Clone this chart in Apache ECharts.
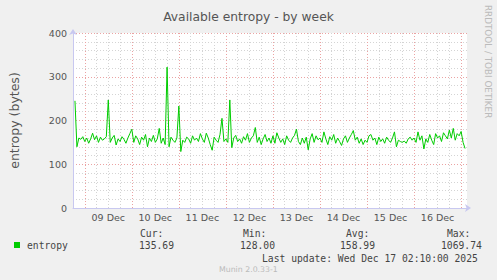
<!DOCTYPE html>
<html>
<head>
<meta charset="utf-8">
<script src="https://cdn.jsdelivr.net/npm/echarts@6/dist/echarts.min.js"></script>
<style>
html,body{margin:0;padding:0;background:#f0f0f0;}
#chart{width:497px;height:280px;}
</style>
</head>
<body>
<div id="chart"></div>
<script>
// ---- data (hourly, hours relative to 09 Dec 00:00) ----
const startHour = -5;
const entropyValues = [
  245,140,160,157,163,
  152,160,148,158,171,156,165,150,162,155,158,163,247,150,160,166,144,158,152,163,157,148,160,170,
  180,150,165,158,145,162,155,168,140,160,152,166,150,158,182,148,160,145,322,140,162,155,150,160,
  233,129,155,150,162,158,148,165,155,160,152,170,158,150,171,160,145,132,162,155,150,168,205,152,
  158,150,247,138,160,166,152,158,148,163,155,170,150,160,165,184,150,162,145,158,168,152,160,148,
  165,148,172,160,150,158,145,165,155,150,160,166,180,152,145,160,148,162,133,158,170,150,165,156,
  160,150,174,158,145,163,155,168,148,160,152,143,158,165,150,160,168,177,155,162,148,158,145,155,
  150,165,168,155,160,145,162,152,158,148,162,155,150,160,174,140,155,152,150,153,148,158,162,155,
  160,150,174,155,165,135,158,150,168,155,145,170,160,165,152,172,165,158,178,160,182,155,170,165,175,150,136
];
const dayLabels = ['09 Dec','10 Dec','11 Dec','12 Dec','13 Dec','14 Dec','15 Dec','16 Dec'];
const yTickLabels = [0,100,200,300,400];
const statHeaders = ['Cur:','Min:','Avg:','Max:'];
const statValues = ['135.69','128.00','158.99','1069.74'];
const seriesName = 'entropy';
const titleText = 'Available entropy - by week';
const yName = 'entropy (bytes)';
const lastUpdate = 'Last update: Wed Dec 17 02:10:00 2025';
const footer = 'Munin 2.0.33-1';
const sideText = 'RRDTOOL / TOBI OETIKER';

const seriesData = entropyValues.map((v, i) => [startHour + i, v]);

const GRAY = '#d4d4d4', RED = '#eba3a3', AXIS = '#c8c8f0';
const mono = '"DejaVu Sans Mono", monospace';
const sans = '"DejaVu Sans", sans-serif';

const statHeaderX = [140, 243, 346, 447];
const statValueX = [139, 240, 340, 441];

const graphics = [
  {type:'rect', shape:{x:14,y:242,width:6,height:6}, style:{fill:'#00cc00'}},
  {type:'text', x:27, y:245, style:{text:seriesName, font:'9.7px ' + mono, fill:'#444', textVerticalAlign:'middle'}},
  {type:'text', x:262, y:258, style:{text:lastUpdate, font:'9.7px ' + mono, fill:'#444', textVerticalAlign:'middle'}},
  {type:'text', x:219, y:269, style:{text:footer, font:'7.8px ' + sans, fill:'#bbb', textVerticalAlign:'middle'}},
  {type:'text', x:488, y:5, rotation:-Math.PI/2, style:{text:sideText, font:'8.8px ' + sans, fill:'#bbb', textVerticalAlign:'middle'}}
];
statHeaders.forEach((h, i) => {
  graphics.push({type:'text', x:statHeaderX[i], y:233, style:{text:h, font:'9.7px ' + mono, fill:'#444', textVerticalAlign:'middle'}});
  graphics.push({type:'text', x:statValueX[i], y:245, style:{text:statValues[i], font:'9.7px ' + mono, fill:'#444', textVerticalAlign:'middle'}});
});

const chart = echarts.init(document.getElementById('chart'), null, {renderer:'svg'});
chart.setOption({
  backgroundColor:'#f0f0f0',
  animation:false,
  title:{text:titleText, left:'center', top:6, textStyle:{fontFamily:sans, fontSize:12.3, fontWeight:'normal', color:'#555'}},
  grid:{left:66, top:33, width:401, height:175, show:true, backgroundColor:'#fff', borderWidth:0},
  xAxis:{
    type:'value', min:-6, max:195, interval:6,
    axisLine:{show:true, onZero:false, lineStyle:{color:AXIS, width:1}, symbol:['none','arrow'], symbolSize:[6,6], symbolOffset:[0,4]},
    axisTick:{show:false},
    splitLine:{show:true, showMinLine:true, showMaxLine:false, lineStyle:{color:[GRAY, RED, GRAY, GRAY], type:[1,2], width:1}},
    axisLabel:{interval:0, margin:4, fontFamily:sans, fontSize:9.5, color:'#555',
      formatter:v => { const d = (v - 12) / 24; return (Number.isInteger(d) && dayLabels[d]) ? dayLabels[d] : ''; }}
  },
  yAxis:{
    type:'value', min:0, max:400, interval:20,
    name:yName, nameLocation:'middle', nameGap:52, nameRotate:90,
    nameTextStyle:{fontFamily:sans, fontSize:12.5, color:'#555'},
    axisLine:{show:true, onZero:false, lineStyle:{color:AXIS, width:1}, symbol:['none','arrow'], symbolSize:[6,6], symbolOffset:[0,4]},
    axisTick:{show:false},
    splitLine:{show:true, lineStyle:{color:[RED, GRAY, GRAY, GRAY, GRAY], type:[1,2], width:1}},
    axisLabel:{margin:6, fontFamily:sans, fontSize:9.5, color:'#555',
      formatter:v => yTickLabels.includes(v) ? String(v) : ''}
  },
  series:[{
    name:seriesName, type:'line', data:seriesData, showSymbol:false, symbol:'none',
    lineStyle:{color:'#00cc00', width:1}, itemStyle:{color:'#00cc00'}, z:5
  }],
  graphic:graphics
});
</script>
</body>
</html>
